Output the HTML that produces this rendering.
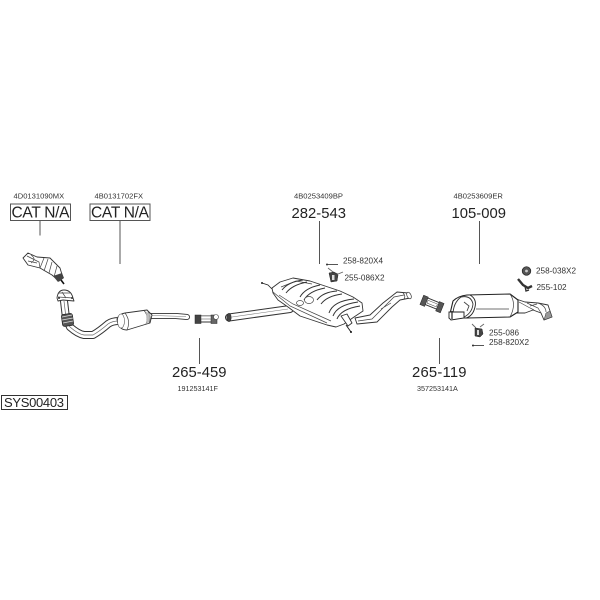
<!DOCTYPE html>
<html><head><meta charset="utf-8"><style>
html,body{margin:0;padding:0;background:#fff}
svg{display:block}
text{font-family:"Liberation Sans",sans-serif;fill:#222}
.s{font-size:7.600px;fill:#333}
.b{font-size:14.800px}
.c{font-size:15.500px}
.m{font-size:8.200px;fill:#333}
.l{stroke:#555;stroke-width:1;fill:none}
.o{stroke:#333;stroke-width:.9;fill:#fff;stroke-linejoin:round}
.t{stroke:#444;stroke-width:.7;fill:none}
.r{stroke:#333;stroke-width:1;fill:none}
.p1{stroke:#333;fill:none;stroke-linejoin:round;stroke-linecap:round}
.p2{stroke:#fff;fill:none;stroke-linejoin:round;stroke-linecap:round}
.g{filter:blur(.3px)}
</style></head><body>
<svg width="600" height="600" viewBox="0 0 600 600" xmlns="http://www.w3.org/2000/svg">
<text class="s" x="13.500" y="198.500">4D0131090MX</text>
<text class="s" x="94.500" y="198.500">4B0131702FX</text>
<text class="s" x="294" y="198.500">4B0253409BP</text>
<text class="s" x="453.500" y="198.500">4B0253609ER</text>
<rect x="10.500" y="204" width="60" height="16.500" fill="none" stroke="#555"/>
<text class="c" x="11.500" y="217.500" textLength="58">CAT N/A</text>
<rect x="90" y="204" width="60" height="16.500" fill="none" stroke="#555"/>
<text class="c" x="91" y="217.500" textLength="58">CAT N/A</text>
<text class="b" x="291.500" y="218" textLength="54.500">282-543</text>
<text class="b" x="451.500" y="218" textLength="54.500">105-009</text>
<text class="b" x="172" y="377" textLength="54.500">265-459</text>
<text class="b" x="412" y="377" textLength="54.500">265-119</text>
<text class="s" x="177.500" y="391" style="font-size:7.200px">191253141F</text>
<text class="s" x="417" y="391" style="font-size:7.200px">357253141A</text>
<rect x="1.500" y="395.500" width="66" height="14" fill="none" stroke="#333"/>
<text style="font-size:13px" x="4" y="407" textLength="60">SYS00403</text>
<text class="m" x="343" y="263.500">258-820X4</text>
<text class="m" x="344.500" y="280.500">255-086X2</text>
<text class="m" x="536" y="273.500">258-038X2</text>
<text class="m" x="536.500" y="290">255-102</text>
<text class="m" x="489" y="335.500">255-086</text>
<text class="m" x="489" y="345">258-820X2</text>
<path class="l" d="M40 221V235.500M120 221V264M319.500 221V264M479.500 221V264M199.500 338V364M439.500 338V364"/>
<g class="g">
<!-- left cat -->
<path class="o" d="M23 258L28 253L37 257L50 258L60 268L63 278L59 281L52 275L40 268L28 265Z"/>
<path class="t" d="M27 256L35 260L39 262L40 268M44 258L40 268M48 259L44 271M52 262L49 273M57 266L54 277M28 261L37 263M31 255Q37 259 31 263"/>
<path d="M53 276L58 282L64 278L62 273Z" fill="#444"/>
<path d="M61 280L64 284" stroke="#111" stroke-width="1.600"/>

<!-- front pipe -->
<path id="fp" d="M64 301L66 318L70 327Q78 334 84 335L93 335Q100 331 108 324Q112 321 119 321" class="p1" stroke-width="8"/>
<path d="M64 301L66 318L70 327Q78 334 84 335L93 335Q100 331 108 324Q112 321 119 321" class="p2" stroke-width="6"/>
<path d="M64 301L66 318L70 327Q78 334 84 335L93 335Q100 331 108 324Q112 321 119 321" stroke="#666" stroke-width=".7" fill="none"/>
<path class="o" d="M57 298Q58 290 64 290Q71 290 73 298L74 301L63 300L58 301Z"/>
<path class="t" d="M58 297L73 298M62 292L66 298M59 293L70 293"/>
<circle cx="59" cy="298" r="1" fill="#333"/>
<circle cx="72" cy="298" r="1" fill="#333"/>
<rect x="62" y="314" width="11" height="12" rx="2" fill="#555" stroke="#222" stroke-width=".8" transform="rotate(-8 67 320)"/>
<path d="M62 317L72 315M62 320L73 318M63 323L73 321" stroke="#ddd" stroke-width=".7"/>
<path d="M148 316L176 316L187 317" class="p1" stroke-width="6"/>
<path d="M148 316L176 316L187 317" class="p2" stroke-width="4.200"/>
<path d="M152 315.500L186 316.500" stroke="#777" stroke-width=".6"/>
<path class="o" d="M117 319Q119 314 125 313L147 310L152 315L150 323L127 330Q118 330 117 319Z"/>
<path class="t" d="M125 313Q131 321 127 330M144 310.500Q149 316 146 324M147 310Q152 316 149 323"/>
<path d="M145 311L150 314L149 322L146 324Q148 316 145 311Z" fill="#bbb"/>
<ellipse cx="121" cy="321" rx="3.500" ry="7" fill="#fff" stroke="#555" stroke-width=".6"/>

<!-- clamp 1 -->
<path d="M196 316H217M196 322H217" stroke="#333" stroke-width="1"/>
<rect x="195" y="315" width="6" height="8.500" fill="#444" stroke="#222" stroke-width=".5"/>
<rect x="211" y="315" width="6" height="8.500" fill="#666" stroke="#222" stroke-width=".5"/>
<rect x="201" y="316" width="10" height="3" fill="#fff" stroke="#444" stroke-width=".5"/>
<circle cx="216" cy="317" r="2.500" fill="#fff" stroke="#444" stroke-width=".6"/>

<!-- centre pipe -->
<path d="M229 317.500L290 309" class="p1" stroke-width="8"/>
<path d="M229 317.500L290 309" class="p2" stroke-width="6"/>
<path d="M232 317L288 309" stroke="#777" stroke-width=".6"/>
<ellipse cx="229" cy="317.500" rx="2.200" ry="4.200" fill="#444" stroke="#222" stroke-width=".5"/>

<!-- tail mid -->
<path d="M355 318L370 315L383 303L397 292L408 293L410 298L400 300L392 307L377 322L357 324Z" class="o"/>
<path class="t" d="M358 321L372 319L385 306L394 297L404 295M381 309L391 303M403 293Q406 296 404 299"/>
<ellipse cx="409" cy="295.500" rx="2" ry="3.500" fill="#fff" stroke="#333" stroke-width=".7" transform="rotate(-25 409 295.500)"/>

<!-- central muffler -->
<path class="o" d="M272 288L280 282L293 278L310 281L340 291L353 297L362 303L363 311L354 317L344 324L336 327L327 325L300 316L288 307L278 300L273 293Z"/>
<path class="t" d="M273 292L290 306L327 323M279 295L293 304L331 321M281 287L296 281L312 284"/>
<path class="r" d="M282 290Q288 282 303 280M286 293Q292 285 307 282M300 297Q305 288 320 285M304 300Q309 291 325 288M317 300Q323 292 337 291M321 304Q327 296 342 294M329 313Q333 301 354 299M333 316Q337 305 358 302M337 319Q341 309 360 306"/>
<ellipse cx="300" cy="303" rx="3.500" ry="2.500" fill="#fff" stroke="#444" stroke-width=".7"/>
<ellipse cx="309" cy="300" rx="4.500" ry="3.500" fill="#fff" stroke="#444" stroke-width=".7"/>
<path d="M262 283L268 285L272 289" stroke="#222" stroke-width=".8" fill="none"/>
<circle cx="262" cy="283" r="1" fill="#222"/>
<path class="o" d="M341 316L347 314L352 323L348 326Z"/>
<path d="M346 325L351 332" stroke="#222" stroke-width="1"/>
<circle cx="351" cy="332" r="1" fill="#111"/>

<!-- hanger kit centre -->
<path d="M327 264.500H338" stroke="#555" stroke-width="1"/>
<circle cx="327" cy="264.500" r="1" fill="#333"/>
<path d="M328 268L333 272L338 274L343 272" stroke="#666" stroke-width=".9" fill="none"/>
<path d="M329 273L334 272L338 275L337 281L331 282Z" fill="#444" stroke="#222" stroke-width=".5"/>
<rect x="332" y="275" width="2.500" height="5" fill="#ddd"/>

<!-- clamp 2 -->
<g transform="rotate(22 432 304)">
<path d="M423 300H442M423 307H442" stroke="#333" stroke-width="1"/>
<rect x="421" y="299" width="5" height="10" fill="#555" stroke="#222" stroke-width=".5"/>
<rect x="438" y="299" width="5" height="10" fill="#555" stroke="#222" stroke-width=".5"/>
<rect x="427" y="302" width="10" height="3" fill="#fff" stroke="#444" stroke-width=".5"/>
</g>

<!-- rear muffler tail -->
<path d="M516 299L525 302L538 303L548 305L552 317L544 320L541 313L533 310L525 313L517 313Z" class="o"/>
<path class="t" d="M519 302L530 308L534 310M527 303L538 308L541 313M538 303Q546 306 546 312M530 306L537 304"/>
<path d="M544 320L552 317L550 311L546 313Z" fill="#999" stroke="#333" stroke-width=".5"/>
<!-- rear muffler -->
<path d="M449 318L453 301Q458 296 467 295L510 294L518 300L518 312L510 317L467 318Z" fill="#fff" stroke="#222" stroke-width="1.100" stroke-linejoin="round"/>
<path d="M470 295Q477 299 475 307Q473 316 466 318" fill="none" stroke="#222" stroke-width=".9"/>
<path class="t" d="M476 309L509 309M510 294Q517 304 510 317"/>
<path d="M461 297Q471 295 473 304Q472 314 462 318Q455 320 453 315Q453 303 461 297Z" fill="#fff" stroke="#333" stroke-width=".9"/>
<path d="M464 302L469 306L467 311" stroke="#444" fill="none" stroke-width=".9"/>
<path d="M449 312H464V318L451 320L449 318Z" fill="#fff" stroke="#222" stroke-width=".9"/>
<path d="M452 311V319" stroke="#222" stroke-width="1.200"/>

<!-- right kit -->
<circle cx="526.500" cy="271" r="4.300" fill="#555" stroke="#222" stroke-width=".7"/>
<circle cx="526.500" cy="271" r="1.400" fill="#ccc"/>
<path d="M518 279L523 285L528 288L532 286" stroke="#333" stroke-width="2.400" fill="none"/>
<path d="M525 286L526 291L529 290" stroke="#333" stroke-width="1.400" fill="none"/>
<path d="M472 324L476 328M480 327L484 324" stroke="#666" stroke-width=".9"/>
<path d="M475 328L482 329L483 334L480 337L475 336Z" fill="#444" stroke="#222" stroke-width=".5"/>
<rect x="477" y="330" width="2" height="5" fill="#ddd"/>
<path d="M472 345.500H484" stroke="#555" stroke-width="1"/>
<circle cx="473" cy="345.500" r="1" fill="#333"/>
</g>
</svg>
</body></html>
